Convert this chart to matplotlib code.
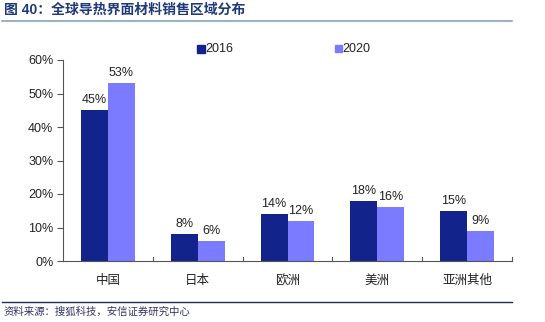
import matplotlib
matplotlib.use("Agg")
import matplotlib.pyplot as plt
import numpy as np
from matplotlib.lines import Line2D
from matplotlib.patches import Rectangle

plt.rcParams['font.family'] = ['Liberation Sans', 'Noto Sans CJK SC', 'DejaVu Sans']

categories = ['中国', '日本', '欧洲', '美洲', '亚洲其他']
v2016 = [45, 8, 14, 18, 15]
v2020 = [53, 6, 12, 16, 9]
series_names = ['2016', '2020']
yticks = [0, 10, 20, 30, 40, 50, 60]

c1 = '#13238C'
c2 = '#7B7BFF'
tc = '#222222'
fs = 9

fig = plt.figure(figsize=(5.45, 3.22), dpi=100)
ax = fig.add_axes([63/545, 1-261/322, (512-63)/545, (261-60)/322])

x = np.arange(len(categories))
w = 0.3
b1 = ax.bar(x - w/2, v2016, w, color=c1)
b2 = ax.bar(x + w/2, v2020, w, color=c2)
for rect, v in zip(b1, v2016):
    ax.text(rect.get_x() + rect.get_width()/2, v + 1.2, f'{v}%', ha='center', va='bottom', fontsize=fs, color=tc)
for rect, v in zip(b2, v2020):
    ax.text(rect.get_x() + rect.get_width()/2, v + 1.2, f'{v}%', ha='center', va='bottom', fontsize=fs, color=tc)

ax.set_xlim(-0.5, len(categories) - 0.5)
ax.set_ylim(0, 60)
ax.set_yticks(yticks)
ax.set_yticklabels([f'{t}%' for t in yticks], fontsize=fs, color=tc)
ax.set_xticks(x)
ax.set_xticklabels(categories, fontsize=fs, color=tc)
ax.tick_params(axis='x', length=0, pad=10)
ax.tick_params(axis='y', length=4, direction='out', color='#555555', pad=3)
for s in ['top', 'right']:
    ax.spines[s].set_visible(False)
for s in ['left', 'bottom']:
    ax.spines[s].set_color('#555555')
    ax.spines[s].set_linewidth(0.8)
# category boundary ticks on x axis
for b in np.arange(-0.5, len(categories), 1.0)[1:]:
    ax.plot([b, b], [0, 1.2], color='#555555', lw=0.8, clip_on=False)

# legend
fig.patches.append(Rectangle((197/545, 1-53/322), 8/545, 8/322, transform=fig.transFigure, color=c1))
fig.text(205/545, 1-49/322, series_names[0], fontsize=fs, va='center', ha='left', color=tc)
fig.patches.append(Rectangle((335/545, 1-52/322), 7/545, 7/322, transform=fig.transFigure, color=c2))
fig.text(342/545, 1-49/322, series_names[1], fontsize=fs, va='center', ha='left', color=tc)

# title
fig.text(4/545, 1-10/322, '图 40：全球导热界面材料销售区域分布', fontsize=10, fontweight='bold', color='#1F3A7A', va='center', ha='left')
fig.add_artist(Line2D([2/545, 512/545], [1-21/322, 1-21/322], color='#8FA0B8', lw=1.2))

# footer
fig.add_artist(Line2D([2/545, 512/545], [1-302/322, 1-302/322], color='#1F2F55', lw=1.0))
fig.text(4/545, 1-312/322, '资料来源：搜狐科技，安信证券研究中心', fontsize=7.5, color='#333366', style='italic', va='center', ha='left')

fig.savefig('out.png', dpi=100)
